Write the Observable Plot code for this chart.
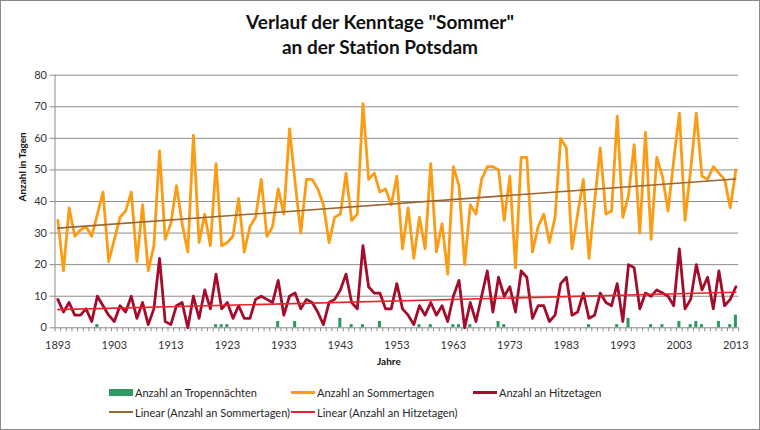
<!DOCTYPE html>
<html>
<head>
<meta charset="utf-8">
<script src="https://cdn.jsdelivr.net/npm/d3@7"></script>
<script src="https://cdn.jsdelivr.net/npm/@observablehq/plot@0.6"></script>
<style>
  body { margin: 0; background: #fff; }
  #wrap { position: relative; width: 760px; height: 430px; overflow: hidden; font-family: Lato, "Open Sans", sans-serif; color: #262626; }
  #chart { position: absolute; left: 0; top: 0; }
  #title { position: absolute; left: 0; top: 9px; width: 760px; text-align: center; font-weight: bold; font-size: 19px; line-height: 25px; color: #111; }
  .leg { position: absolute; height: 14px; display: flex; align-items: center; font-size: 11px; white-space: nowrap; color: #262626; }
  .sw { display: inline-block; width: 24px; margin-right: 2px; }
  #frame { position: absolute; left: 0; top: 0; width: 760px; height: 430px; box-sizing: border-box; border: 1px solid #8a8a8a; pointer-events: none; }
</style>
</head>
<body>
<div id="wrap">
  <div id="chart"></div>
  <div id="title">Verlauf der Kenntage "Sommer"<br>an der Station Potsdam</div>
  <div id="legend"></div>
  <div id="frame"></div>
</div>
<script>
// Jahre der Messreihe (Kategorien der x-Achse)
const jahre = d3.range(1893, 2014);

// Anzahl an Sommertagen (Tmax >= 25 °C), 1893–2013
const sommertage = [
  34, 18, 38, 29, 31, 32, 29, 36, 43, 21,
  28, 35, 37, 43, 21, 39, 18, 26, 56, 28,
  33, 45, 33, 24, 61, 27, 36, 26, 52, 26,
  27, 29, 41, 24, 32, 35, 47, 29, 32, 44,
  36, 63, 46, 30, 47, 47, 44, 39, 27, 35,
  36, 49, 34, 36, 71, 47, 49, 43, 44, 39,
  48, 25, 38, 22, 35, 25, 52, 24, 33, 17,
  51, 45, 20, 39, 36, 47, 51, 51, 50, 34,
  48, 19, 54, 54, 24, 32, 36, 27, 35, 60,
  57, 25, 36, 47, 22, 40, 57, 36, 37, 67,
  35, 42, 58, 30, 62, 28, 54, 48, 37, 53,
  68, 34, 50, 68, 48, 47, 51, 49, 47, 38,
  50
];

// Anzahl an Hitzetagen (Tmax >= 30 °C), 1893–2013
const hitzetage = [
   9,  5,  8,  4,  4,  6,  2, 10,  7,  4,
   2,  7,  5, 10,  3,  8,  1,  6, 22,  2,
   1,  7,  8,  0, 10,  3, 12,  6, 17,  6,
   8,  3,  7,  3,  3,  9, 10,  9,  8, 15,
   4, 10, 11,  6,  9,  8,  5,  1,  8,  9,
  12, 17,  8,  6, 26, 13, 11, 11,  6,  6,
  14,  6,  4,  1,  7,  4,  8,  4,  7,  2,
  10, 15,  0,  8,  2, 10, 18,  5, 16, 10,
  13,  5, 18, 16,  3,  7,  7,  2,  4, 14,
  16,  4,  5, 11,  3,  4, 11,  8,  7, 14,
   2, 20, 19,  6, 11, 10, 12, 11, 10,  7,
  25,  6,  9, 20, 12, 16,  6, 18,  7,  9,
  13
];

// Anzahl an Tropennächten (Tmin >= 20 °C), nur Jahre mit mindestens einer Nacht
const tropenJahre = [1900, 1921, 1922, 1923, 1932, 1935, 1943, 1945, 1947, 1950,
                     1957, 1959, 1963, 1964, 1966, 1971, 1972, 1987, 1992, 1994,
                     1998, 2000, 2003, 2005, 2006, 2007, 2010, 2012, 2013];
const tropenWerte = [1, 1, 1, 1, 2, 2, 3, 1, 1, 2,
                     1, 1, 1, 1, 1, 2, 1, 1, 1, 3,
                     1, 1, 2, 1, 2, 1, 2, 1, 4];

// Achsenbeschriftungen
const yTicks = [0, 10, 20, 30, 40, 50, 60, 70, 80];
const xLabelJahre = [1893, 1903, 1913, 1923, 1933, 1943, 1953, 1963, 1973, 1983, 1993, 2003, 2013];

const reihen = jahre.map((jahr, i) => ({jahr, sommer: sommertage[i], hitze: hitzetage[i]}));
const tropen = tropenJahre.map((jahr, i) => ({jahr, n: tropenWerte[i]}));

// Kategoriegrenzen: jeder Punkt sitzt mittig in seinem Jahresfeld
const grenzen = [...jahre.map(j => j - 0.5), jahre[jahre.length - 1] + 0.5];

const gridFarbe = "#8c8c8c";

const chart = Plot.plot({
  width: 760,
  height: 430,
  marginTop: 74.7,
  marginBottom: 102.7,
  marginLeft: 54.5,
  marginRight: 21.8,
  style: {fontFamily: "Lato, 'Open Sans', sans-serif", fontSize: "11px", color: "#333", background: "transparent"},
  x: {domain: [grenzen[0], grenzen[grenzen.length - 1]]},
  y: {domain: [0, 80]},
  marks: [
    Plot.ruleY(yTicks, {stroke: gridFarbe, strokeWidth: 1}),
    Plot.ruleX([grenzen[0]], {stroke: gridFarbe, strokeWidth: 1}),
    Plot.axisY({ticks: yTicks, tickSize: 5, tickPadding: 3, stroke: gridFarbe, label: null}),
    Plot.axisX({ticks: grenzen, tickSize: 4, tickFormat: () => "", stroke: gridFarbe, label: null}),
    Plot.axisX({ticks: xLabelJahre, tickSize: 0, tickPadding: 13, tickFormat: d => String(d), label: null}),
    Plot.rect(tropen, {x1: d => d.jahr - 0.27, x2: d => d.jahr + 0.27, y1: 0, y2: "n", fill: "#2e9963"}),
    Plot.line(reihen, {x: "jahr", y: "sommer", stroke: "#fb9c14", strokeWidth: 2.8, strokeLinejoin: "round"}),
    Plot.line(reihen, {x: "jahr", y: "hitze", stroke: "#a30d2b", strokeWidth: 2.8, strokeLinejoin: "round"}),
    Plot.linearRegressionY(reihen, {x: "jahr", y: "sommer", stroke: "#98662f", strokeWidth: 1.6, ci: 0}),
    Plot.linearRegressionY(reihen, {x: "jahr", y: "hitze", stroke: "#e8232a", strokeWidth: 1.6, ci: 0}),
    Plot.text(["Jahre"], {frameAnchor: "bottom", dy: 37, dx: -8, fontWeight: "bold", fontSize: 10, fill: "#111"}),
    Plot.text(["Anzahl in Tagen"], {frameAnchor: "left", dx: -32, rotate: -90, fontWeight: "bold", fontSize: 10, fill: "#111"})
  ]
});
document.getElementById("chart").append(chart);

// Legende unter dem Diagramm
const legende = [
  {label: "Anzahl an Tropennächten", color: "#2e9963", kind: "rect", x: 109, y: 392},
  {label: "Anzahl an Sommertagen", color: "#fb9c14", kind: "line3", x: 291, y: 392},
  {label: "Anzahl an Hitzetagen", color: "#a30d2b", kind: "line3", x: 473, y: 392},
  {label: "Linear (Anzahl an Sommertagen)", color: "#98662f", kind: "line2", x: 109, y: 412},
  {label: "Linear (Anzahl an Hitzetagen)", color: "#e8232a", kind: "line2", x: 291, y: 412}
];
const legEl = document.getElementById("legend");
for (const item of legende) {
  const div = document.createElement("div");
  div.className = "leg";
  div.style.left = item.x + "px";
  div.style.top = (item.y - 7) + "px";
  const sw = document.createElement("span");
  sw.className = "sw";
  sw.style.background = item.color;
  sw.style.height = item.kind === "rect" ? "7px" : item.kind === "line3" ? "3px" : "2px";
  div.append(sw, document.createTextNode(item.label));
  legEl.append(div);
}
</script>
</body>
</html>
